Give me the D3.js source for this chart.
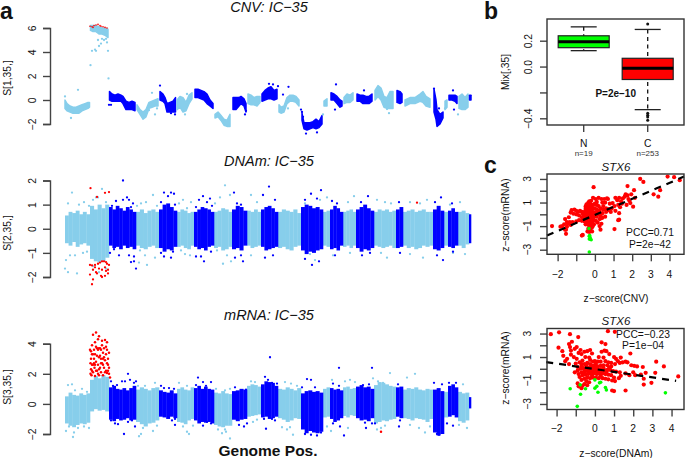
<!DOCTYPE html>
<html><head><meta charset="utf-8">
<script src="https://cdn.jsdelivr.net/npm/d3@7"></script>
<style>html,body{margin:0;padding:0;background:#fff}svg{display:block}text{font-family:"Liberation Sans",Arial,sans-serif;fill:#111}</style>
</head><body><svg id="c" width="685" height="458"></svg>
<script>
// genome segments: position units along the genome, alternating colour
const segStart=[0,25,44,71,94,112,129,149,167,182,196,213,236,258,265,278,291,309,331,338,368,379,383,393,404];
const segEnd  =[25,44,71,94,112,129,149,167,182,196,213,236,258,265,278,291,309,331,338,368,379,383,393,404,406];
const segBlue =[0,0,1,0,1,0,1,0,1,0,1,0,1,0,1,0,1,0,1,0,1,0,1,0,1];
// CNV: position, low, high
const cnvTrace=[[0,-.7,0],[2,-.9,-.3],[5,-1,-.5],[8,-1.1,-.6],[11,-1.1,-.6],[14,-1.1,-.5],[17,-.9,-.4],[20,-.8,-.3],[23,-.7,-.2],[24.5,-.6,-.2],
[25.5,5.8,6.2],[28,5.7,6.2],[31,5.7,6.2],[34,5.5,6.1],[37,5.5,6],[40,5.4,6],[43,5.2,5.9],
[44.5,0,.7],[47,-.1,.5],[50,-.1,.4],[53,-.1,.5],[56,-.1,.4],[58,-.3,.3],[61,-.8,-.1],[64,-.8,-.2],[67,-.8,-.1],[70,-.9,-.2],
[72,-.8,-.4],[75,-1.2,-.8],[78,-1.6,-1],[81,-1.4,-.8],[84,-.7,-.2],[87,-.6,-.1],[90,-.5,0],[93,-.5,.1],
[95,0,.7],[98,-.1,.5],[100,-.3,.2],[102,-1,-.3],[105,-1,-.2],[108,-1,-.1],[110.5,-1,.2],
[112,-.8,0],[115,-.6,.3],[118,-1,.2],[121,-.9,-.2],[124,-.3,.4],[127,.1,.6],
[130,.2,.9],[133,.2,.9],[136,.1,.8],[139,0,.7],[142,-.3,.5],[145,-.5,0],[148,-.7,-.3],
[150,-1.5,-1.2],[153,-1.4,-1],[156,-1.7,-1.3],[159,-2.1,-1.6],[162,-2.2,-1.7],[165,-2.2,-1.2],
[168,-.8,.2],[171,-.8,.2],[174,-.5,.2],[176,-.3,.3],[179,-.5,.1],[181,-1,-.3],
[183,-.3,.5],[186,-.4,.4],[189,-.4,.2],[192,-.5,.3],[195,-.2,.3],
[197,-.1,.5],[200,0,.8],[203,.1,1],[206,.1,1.1],[209,0,.8],[212,.1,.9],
[214,-1,-.4],[216,-1.1,-.6],[219,-1,-.5],[222,-.3,.2],[225,-.1,.4],[228,-.1,.4],[231,-.2,.3],[234,-.5,0],
[237,-1.7,-1.1],[239,-2.4,-1.9],[242,-2.5,-1.9],[245,-2.4,-1.9],[248,-2.3,-1.8],[251,-2.4,-1.6],[254,-2.3,-1.8],[257,-2,-1.3],
[259,-.5,-.1],[262,-.5,.1],[266,0,.6],[269,0,.5],[272,-.3,.3],[275,-.6,0],[277,-.5,-.1],
[279,-.3,.2],[282,-.2,.5],[285,-.2,.4],[288,0,.6],
[292,-.1,.5],[295,-.1,.4],[298,-.3,.4],[301,-.3,.3],[304,-.3,.3],[307,-.1,.5],
[310,0,.8],[313,.3,1.2],[316,0,1],[319,-.6,.3],[322,-.7,.2],[325,-.7,.7],[328,-.7,.7],
[332,-.2,.8],[335,-.3,.7],[337,-.2,.5],
[340,-.5,0],[345,-.3,.2],[350,-.3,.2],[355,-.1,.5],[358,-.2,.7],[361,-.5,.3],[365,-.6,.1],
[369,-1,.9],[371,-1.6,0],[372,-2.2,-.8],[375,-2,-1.2],[378,-1.5,-1],
[380,-.8,-.1],[382,-.6,0],[384,0,.4],[387,0,.4],[390,-.1,.4],[392,-.3,.3],
[394,-.7,.3],[397,-.8,.5],[400,-.8,.2],[403,-.6,.5],[404.5,0,.4],[406,0,.4]];
const cnvRed=[[25,6.15],[27,6.1],[29,6.2],[31,6.25],[33,6.3],[35,6.2],[38,6.1],[40,6.05],[42,6],[28,6.05],[36,6.15]];
const cnvStray=[[13,.85,0],[6,-1.5,0],[0,.3,0],[25.5,2.9,0],[27,4.1,0],[30,4.2,0],[31,4.1,0],[34,4.5,0],[33,5,0],[36,4.7,0],[39,5,0],[42,4.8,0],[43,4.1,0],[43.5,1.8,0],[41,5.1,0],[37,5.1,0],
[44,-.4,1],[46,-.4,1],[95,1.2,1],[106,-1.1,1],[110,-1.2,1],[87,.6,0],[84,-.85,0],[90,-1.2,0],[120,-1.2,0],[122,.5,0],[92,-.7,0],[180,-1.2,1],[181,-.9,1],[237,-1,1],[238,-1.4,1],[241,-2.8,1],[252,-2.7,1],[258,-1.2,0],[218,.45,1],[208,1.3,1],[204,1.35,1],[213,1.15,1],[223,-.7,0],[223.5,1.1,1],[236,-.8,1],[270,-.8,1],[271,1.3,1],[299,.8,1],[324,-1.1,0],[322,-.75,0],[369,.95,1],[374,-.7,1],[380,-.7,0],[389,-.8,1],[393,-1.2,0],[388,.8,1]];
// DNAm: dense band per segment, read in short columns
const dnaTop=[[.55,.7,.65,.75,.6,.7,.6],[.95,.8,1,.85,1],[.9,.8,.95,.85,.75,.9,.8,.7],[.7,.8,.65,.75,.8,.7],[.8,1,1.05,.9,.75],[.7,.8,.75,.65,.7],[.7,.8,.9,.85,.8,.7],[.7,.75,.85,.8,.7],[.8,.95,.9,.75],[.75,.7,.8,.7],[.8,.9,.95,.85,.7],[.7,.8,.75,.7,.8,.65],[.9,1,.95,.85,.9,.8],[.7,.75],[.8,.95,.85,.7],[.7,.75,.8,.7],[.8,.9,1,.85,.75],[.7,.8,.75,.8,.7,.75],[.8,.9],[.7,.75,.8,.7,.75,.8,.7,.7],[.8,.95,.75],[.7],[.75,.85,.7],[.7,.75,.65],[.6]];
const dnaBot=[[-.6,-.7,-.55,-.75,-.65,-.6,-.7],[-1.25,-1.35,-1.4,-1.35,-1.2],[-.7,-.8,-.75,-.85,-.7,-.8,-.75,-.85],[-.7,-.8,-.85,-.75,-.7,-.8],[-.8,-.95,-.85,-.9,-.75],[-.75,-.7,-.8,-.85,-.7],[-.75,-.85,-.8,-.9,-.75,-.7],[-.8,-.75,-.9,-.85,-.75],[-.85,-.8,-.9,-.7],[-.7,-.8,-.75,-.7],[-.75,-.9,-.85,-.8,-.75],[-.8,-.75,-.85,-.9,-.75,-.7],[-.9,-1.05,-.95,-1,-.9,-.85],[-.7,-.75],[-.85,-.8,-.9,-.7],[-.75,-.7,-.8,-.7],[-.8,-.95,-.85,-.9,-.8],[-.7,-.75,-.8,-.75,-.7,-.8],[-.8,-.75],[-.7,-.8,-.75,-.85,-.8,-.7,-.75,-.7],[-.85,-.9,-.8],[-.7],[-.75,-.8,-.7],[-.7,-.8,-.65],[-.6]];
const dnaStray=[[7,1.5,0],[3,1.05,0],[14,1,0],[19,1.1,0],[24,.95,0],[31,1.3,0],[37,1.65,0],[41,1.1,0],[28,1.2,0],[33,1.3,0],[1,-1.3,0],[0,-1.65,0],[3,-1.8,0],[12,-1.85,0],[5,-1.1,0],[10,-1.1,0],[18,-1,0],[22,-.95,0],[28,-1.55,0],[34,-1.8,0],[41,-1.65,0],[43,-1.1,0],
[72,.95,0],[76,1.05,0],[81,1.1,0],[88,1.4,0],[92,.95,0],[75,-.9,0],[80,-1.1,0],[82,-1.5,0],[90,-1.2,0],[74,-1.4,0],[114,1.05,0],[118,1.2,0],[122,.85,0],[126,1.1,0],[116,-.9,0],[120,-1.05,0],[125,-1.1,0],[150,1.05,0],[155,1.3,0],[160,1.8,0],[165,1.4,0],[152,-.9,0],[158,-1.45,0],[162,-1.1,0],[166,-1.35,0],[186,1.4,0],[192,1.1,0],[186,-1.1,0],[240,1.05,0],[255,1.2,0],[245,-1.05,0],[250,-1.3,0],[262,1.3,0],[268,-1.1,0],[283,1.1,0],[289,1.35,0],[285,-1,0],[312,1.2,0],[320,1.1,0],[326,1.05,0],[316,-1,0],[322,-1.2,0],[345,1.1,0],[355,1.05,0],[362,1.2,0],[345,-1.05,0],[358,-1.2,0],[385,1,0],[395,1.1,0],[388,-1,0],[400,-1.05,0],
[47,.95,1],[51,1.15,1],[58,1.2,1],[62,1.3,1],[64,1.2,1],[68,1.05,1],[58,2,1],[66,.9,1],[45,-1,1],[49,-.85,1],[54,-1.1,1],[64,-1.1,1],[66,-1.38,1],[69,-1.35,1],[71,-1.65,1],[69,-1.15,1],[96,1.1,1],[99,1.5,1],[103,1.35,1],[106,1.5,1],[109,1.45,1],[110,1,1],[96,-1,1],[99,-1.15,1],[106,-1.2,1],[108,-.95,1],[131,.9,1],[134,1.2,1],[138,1.35,1],[142,1.1,1],[145,1.25,1],[147,.95,1],[131,-1.15,1],[136,-1.15,1],[139,-1.35,1],[146,-.95,1],[169,1.5,1],[172,1.05,1],[176,1,1],[170,-1.2,1],[176,-1.1,1],[178,-1.35,1],[198,1.4,1],[204,1.75,1],[210,1.2,1],[200,-1.2,1],[208,-1.1,1],[240,1.2,1],[246,1.45,1],[252,1.25,1],[256,1.6,1],[240,-1.25,1],[247,-1.5,1],[254,-1.35,1],[267,1.15,1],[272,1.05,1],[270,-1.1,1],[296,1.1,1],[303,1.35,1],[297,-1.1,1],[305,-1,1],[334,1.1,1],[335,-1,1],[370,1.1,1],[376,1.3,1],[372,-1.1,1],[378,-1.3,1],[387,1.05,1],[388,-.95,1]];
const dnaRed=[[25.5,1.68],[32,1.32],[40,1.49],[44,1.52],[25,-1.5],[27,-1.52],[30,-1.5],[33,-1.45],[35,-1.4],[37,-1.35],[39,-1.35],[41,-1.38],[42,-1.45],[44,-1.5],[34,-1.65],[37,-1.7],[40,-1.6],[43,-1.7],[43,-1.85],[40,-1.95],[36,-1.95],[32,-1.85],[28,-1.7],[25,-1.9],[30,-1.6],[37,-2],[28,-2.1],[27,-2.3],[41,-1.75],[31,-1.8],[352,1.08]];
// mRNA: dense band per segment, read in short columns
const rnaTop=[[.5,.75,.6,.55,.7,.6,.7],[1.6,1.85,1.7,1.9,1.8],[1.1,1.2,1,.95,1.05,.9,1.05,1.2],[.95,1.1,1,.9,1.05,1.1],[.9,.8,.75,.9,.7],[1,1.1,.95,.9,1.1],[1.05,1.2,1,1.15,1,.95],[.75,.7,.85,.7,.65],[.85,.9,1,.95],[1.2,1.3,1.25,1.15],[1.3,1.5,1.45,1.4,1.2],[1,.95,1.1,1,.9,1.05],[.7,.85,.9,.8,.85,.75],[1,1.1],[1.05,.95,1,.9],[1.1,1.15,1,1.05],[1.15,1.25,1.1,1.15,1],[1.25,1.45,1.4,1.3,1.2,1.15],[1.1,1.15],[.95,1.05,1,1.1,.95,.9,1,.95],[.95,1.05,.85],[.8],[1.2,1.3,1.1],[.8,.7,.75],[.45]];
const rnaBot=[[-1.3,-1.45,-1.55,-1.4,-1.3,-1.35,-1.25],[-.5,-.35,-.45,-.4,-.5],[-1.05,-1.15,-1,-1.1,-1.05,-.95,-1.1,-1.05],[-1.2,-1.35,-1.5,-1.3,-1.25,-1.1],[-.85,-.9,-1,-.85,-.95],[-1.2,-1.25,-1.35,-1.1,-1],[-1.1,-1.3,-1.2,-1.25,-1.2,-1.3],[-1.4,-1.5,-1.55,-1.45,-1.45],[-1.05,-1.15,-1.05,-1],[-.85,-.8,-.75,-.7],[-.9,-.85,-1,-.95,-.85],[-.95,-1.05,-1.2,-1.1,-.95,-1],[-1.7,-1.95,-1.8,-1.9,-1.95,-1.85],[-.9,-.85],[-1,-1.2,-1.1,-.95],[-.8,-.9,-.75,-.8],[-.95,-1.1,-1.05,-1.15,-.95],[-1.3,-1.2,-1.1,-1.15,-1.05,-1],[-.85,-.95],[-.95,-1,-1.1,-.95,-1,-1.05,-1.2,-1],[-1.9,-2.1,-2],[-.9],[-.85,-.75,-.9],[-1.15,-1.25,-1.1],[-.3]];
const rnaStray=[[3,1.25,0],[7,1.3,0],[10,.9,0],[17,1,0],[22,.8,0],[1,-1.8,0],[4,-1.5,0],[8,-2.2,0],[9,-1.9,0],[13,-1.6,0],[19,-1.5,0],[24,-1.6,0],[73,1.2,0],[80,1.2,0],[90,1.4,0],[78,-1.6,0],[76,-2,0],[74,-2.15,0],[88,-1.8,0],[92,-1.45,0],[114,1.4,0],[122,1.2,0],[118,-1.5,0],[122,-1.85,0],[124,-2,0],[128,-1.45,0],[151,1,0],[160,.9,0],[165,1,0],[153,-1.7,0],[157,-1.95,0],[160,-1.7,0],[165,-2.3,0],[161,-1.85,0],[186,1.5,0],[190,1.45,0],[188,-1.2,0],[192,-1.05,0],[220,1.45,0],[226,1.35,0],[232,1.2,0],[217,-1.55,0],[222,-1.7,0],[228,-2.05,0],[225,-1.55,0],[267,1.6,0],[262,-1.5,0],[266,-1.8,0],[280,1.5,0],[285,1.6,0],[290,1.45,0],[283,-1.6,0],[308,1.7,0],[313,1.5,0],[318,1.4,0],[316,-1.6,0],[320,-1.45,0],[312,-1.7,0],[325,2.05,0],[342,1.75,0],[350,2,0],[345,-1.4,0],[354,-1.6,0],[360,-1.9,0],[365,-1.5,0],[388,1.1,0],[398,1.3,0],[402,-1.6,0],[394,-1.4,0],
[46,1.5,1],[48,1.2,1],[52,1.25,1],[57,1.5,1],[60,1.5,1],[63,2,1],[65,1.6,1],[69,1.4,1],[71,1.5,1],[46,-1.1,1],[50,-1.3,1],[53,-1.35,1],[59,-2,1],[63,-1.2,1],[70,-1.5,1],[67,-1.1,1],[96,1.2,1],[99,1.05,1],[104,1.05,1],[109,1,1],[107,-1.1,1],[110,-1,1],[110,-1.4,1],[131,1.25,1],[133,1.75,1],[138,1.45,1],[141,1.2,1],[146,1.45,1],[135,-1.2,1],[138,-1.45,1],[142,-1.2,1],[146,-1.3,1],[170,1.1,1],[181,.95,1],[174,-1.4,1],[179,-1.5,1],[182,-1.3,1],[205,3.1,1],[200,1.8,1],[203,1.6,1],[207,1.4,1],[212,1.35,1],[199,-1,1],[201,-1.65,1],[207,-1,1],[210,-1.1,1],[237,1.1,1],[242,1.65,1],[246,1.6,1],[250,1.1,1],[240,-2,1],[246,-2.05,1],[252,-2.1,1],[256,-1.9,1],[268,1.35,1],[274,1.2,1],[274,2.4,1],[268,-1.3,1],[275,-1.5,1],[279,-2.1,1],[298,1.25,1],[304,1.3,1],[307,2.4,1],[300,-1.25,1],[307,-1.3,1],[301,-1.6,1],[310,-1.3,1],[333,1.3,1],[335,-1.1,1],[334,-1.5,1],[369,1.4,1],[377,1.3,1],[372,-2,1],[374,-2.05,1],[384,1.4,1],[391,1.4,1],[382,-1.3,1],[388,-1.45,1]];
const rnaRed=[[25,3.6],[26,3],[26,2.3],[26.5,1.9],[27,3.9],[27,3.3],[27,2.6],[28,4.6],[28,2.1],[29,3.6],[29,3],[29.5,2.4],[30,4.1],[30,3.3],[30,1.85],[31,4.75],[31,3.8],[31,2.8],[32,3.2],[32,2.2],[33,4.3],[33,3.6],[33,2.6],[34,1.9],[34,4.5],[34,3.1],[35,3.7],[35,2.4],[36,3],[36,2.1],[37,3.9],[37,2.7],[37,4.2],[38,3.4],[38,1.9],[39,2.4],[39,3.7],[40,2.9],[40,4.25],[41,3.3],[41,2.2],[42,4.1],[42,2.7],[42,3.6],[43,3],[43,2.2],[44,2.4],[44,3.4],[45,1.75],[25.5,2.7],[28,3.3],[31,2.2],[34,3.7],[38,2.6],[29,2.7],[27,2.2],[36,3.6],[39,3.1],[42,2.05],[33,2],[35,3.2],[26,3.5],[25.5,2],[28,2.6],[30,2.6],[32,3.7],[34,2.3],[36,2.7],[38,3],[40,2.1],[41,3.8],[43,2.6],[44,2],[316,-1.85]];
const cnvTicks=[-2,0,2,4,6], dnaTicks=[-2,-1,0,1,2], rnaTicks=[-2,0,2,4];
// box plot
const boxNames=["N","C"], boxCounts=["n=19","n=253"];
const boxStats=[{lo:.123,q1:.146,med:.192,q3:.238,hi:.307},{lo:-.333,q1:-.10,med:-.013,q3:.064,hi:.287}];
const boxOut=[[2,.33],[2,-.36],[2,-.377],[2,-.39],[2,-.415]];
const boxColors=["#00ff00","#ff0000"];
// scatter CNV vs mRNA
const c1Red=[[2.43,3],[2.6,2.75],[-.07,2.3],[3.9,3.2],[4.25,3.15],[4.55,2.9],[3.15,1.7],[3.4,1.5],[3.5,2.05],[1.75,2.4],[1.1,1.4],[1.2,1.2],[1.3,1.4],[1.4,1.1],[1.45,.9],[1.6,1.5],[1.65,1.7],[1.75,1.6],[1.8,1.3],[1.85,1.15],[1.95,1.7],[2.1,2.05],[2.15,1.4],[1.5,1.35],[1.7,.8],[1.9,.95],[1.35,.6],[1.25,.8],[1.05,.7],[.95,.95],[.8,.9],[.7,1.3],[.65,1.35],[.5,1.3],[.55,1],[.4,1],[.45,.7],[.35,1.3],[.2,1.4],[.05,1.3],[-.1,1.4],[-.3,1.1],[-.35,1],[-.25,.9],[-.45,.85],[-.4,.7],[-.3,.65],[-.2,.7],[-.1,.8],[0,.9],[.1,.8],[.2,.7],[.3,.5],[.45,.4],[.6,.5],[.75,.45],[.9,.5],[1.1,.3],[1.3,.1],[.85,.2],[.6,.2],[.4,.1],[.25,.3],[.1,.4],[0,.5],[-.1,.45],[-.2,.4],[-.3,.35],[-.4,.4],[-.5,.45],[-.55,.2],[-.45,.15],[-.35,.15],[-.25,.1],[-.15,.2],[-.05,.15],[.05,.1],[.15,0],[.3,-.1],[.4,-.3],[.25,-.4],[.1,-.2],[0,-.1],[-.1,-.1],[-.2,-.15],[-.3,-.1],[-.4,-.1],[-.5,0],[-.6,-.05],[-.7,.2],[-.8,.3],[-.9,.2],[-1,.3],[-1.1,.4],[-1.25,.35],[-1.3,.15],[-1.15,.05],[-1,0],[-.85,-.1],[-.7,-.25],[-.55,-.3],[-.45,-.3],[-.35,-.35],[-.25,-.4],[-.15,-.4],[-.05,-.5],[.05,-.55],[.15,-.7],[.35,-.8],[-.05,-.85],[-.15,-.7],[-.25,-.65],[-.35,-.65],[-.45,-.6],[-.55,-.6],[-.7,-.55],[-.85,-.5],[-1,-.6],[-1.2,-.65],[-1.35,-.65],[-1.5,-.65],[-1.6,-.4],[-1.4,-.25],[-1.65,-.85],[-1.5,-1.05],[-1.75,-1],[-1.45,-.8],[-1.3,-.9],[-2.3,-1],[-1.85,-1.05],[-1.55,-1.3],[-1.55,-1.65],[-1.6,-1.3],[-.35,-.9],[-.25,-1],[-.15,-1.1],[-.35,-1.2],[-.25,-1.3],[-.4,-1.45],[-.3,-1.5],[-.15,-1.45],[-.7,-1.8],[-.65,-1.75],[-.3,-.75],[-.5,-.85],[.3,-.35],[.25,-1],[.3,-1.3],[-.1,-.2],[1.05,-1.25],[1.25,-.5],[1.3,-.45],[2.05,.65],[-.2,1.15],[.1,1.05],[-.45,.55],[-.5,.65],[-.15,.55],[-.3,.2],[.15,.25],[-.2,-.85],[-.1,-.95],[.55,-.2],[.7,.35],[-.65,.05],[-.35,.05],[-.2,.05],[-.1,-.3],[-.3,-.25],[-.45,-.15]];
const c1Green=[[-.3,-1.85],[-.25,-2],[-.3,-2.1],[-.2,-2.15],[-.28,-1.8],[-.3,-3.2],[-.32,-1.2]];
const c1Fit=[[-2.57,-1.8],[4.78,3.2]];
// scatter DNAm vs mRNA
const c2Red=[[-2.3,2.95],[-1.87,3.1],[-1.3,2.95],[.68,3.2],[1.04,3.15],[-.87,2.7],[-1.9,1.8],[-1.7,1.5],[-1.35,2.1],[-1.3,1.85],[-1.2,2.3],[-1.25,1.55],[-1.05,1.7],[-.95,1.85],[-.75,1.6],[-1.65,1.1],[-1.45,.85],[-1.25,1.2],[-1.55,.65],[-1.35,.4],[-1.1,1],[-.95,.85],[-.85,1.35],[-.7,1.25],[-.55,1.45],[-.4,1.5],[-.25,1.6],[-.15,1.3],[-.3,.95],[-.5,1],[-.65,.7],[-.8,.55],[-1,.45],[-.9,.15],[-.7,.2],[-.55,.4],[-.4,.5],[-.25,.4],[-.1,.6],[0,.65],[.15,.6],[.3,.6],[.35,2.25],[.55,2.1],[.5,1.55],[.6,1.5],[.75,1.25],[.35,1.45],[.2,1],[.45,.95],[.55,.65],[.7,.55],[.85,.5],[1,1],[1.1,.85],[1.2,.65],[1.35,.95],[1.3,.5],[1.05,.4],[.85,.2],[.65,.3],[.45,.3],[.3,.25],[.15,.2],[0,.25],[-.15,.15],[-.3,.1],[-.45,.1],[-.6,.05],[-.75,0],[-.9,-.15],[-1.05,-.3],[-.85,-.45],[-.7,-.3],[-.55,-.2],[-.4,-.2],[-.25,-.15],[-.1,-.1],[.05,-.1],[.2,-.05],[.35,-.05],[.5,-.15],[.65,-.1],[.8,-.1],[.95,-.2],[1.1,-.25],[1.3,-.3],[1.45,.55],[1.6,.6],[1.7,.55],[1.85,1.3],[1.9,.3],[2.05,.25],[2.2,.2],[2.5,.15],[3.2,.6],[3.6,.2],[2,-.3],[1.6,-.4],[1.35,-.6],[1.25,-.8],[1,-.75],[.85,-.55],[.7,-.5],[.55,-.45],[.4,-.4],[.25,-.4],[.1,-.45],[-.05,-.4],[-.2,-.4],[-.35,-.45],[-.5,-.5],[-.65,-.55],[-.8,-.7],[-.7,-.95],[-.55,-.85],[-.4,-.75],[-.25,-.8],[-.1,-.75],[.05,-.75],[.2,-.8],[.4,-.8],[.55,-.85],[.7,-.9],[.9,-1],[1.05,-1.05],[-.45,-1.05],[-.3,-1.15],[-.55,-1.3],[-.4,-1.4],[-.65,-1.45],[-.9,-1.25],[-.7,-1.65],[-.85,-1.5],[.9,-1.85],[1,-1.9],[1.6,-1.85],[2.55,-.85],[2.95,-1.2],[2.55,-1.35],[2.65,-.35],[3.15,-.35],[2.4,-.5],[4.35,-.65],[2.1,-.55],[1.8,-.55],[-.25,.75],[-.1,.25],[-.2,-.25],[.1,.05],[-.05,.1],[-.4,-.05],[-.55,-.35],[.3,-.25],[.15,-.25],[.0,-.25],[-.15,-.6],[.3,-.6],[.6,-.25],[.05,.4],[-.3,-.3],[-.45,.35],[-.7,.4],[.45,.05],[.75,.1]];
const c2Green=[[-1.29,-1.7],[-.92,-3.2],[-.77,-1.37],[-.75,-2.17],[-.49,-1.7],[0,-.95],[0,-1.65],[.16,-2],[.24,-1.2],[.3,-1.15],[.1,-1.5],[.55,-1.6],[.6,-1.8],[3.68,-2.05]];
const c2Fit=[[-2.54,.57],[4.24,-1.03]];
const scatterXTicks=[-2,-1,0,1,2,3,4], xLabelTicks=[-2,0,1,2,3,4];
const scatterYTicks=[-3,-2,-1,0,1,2,3], yLabelTicks=[-3,-1,1,3];

const svg=d3.select("#c");
const LIGHT="#87ceeb",BLUE="#0000ff",RED="#ff0000",AX="#444";
const FS=10.3;
const minus=s=>String(s).replace("-","\u2212");
const fmt=v=>minus(v);
function txt(x,y,s,o={}){const t=svg.append("text").attr("x",x).attr("y",y).attr("text-anchor",o.a||"middle").attr("dominant-baseline","central").attr("font-size",o.s||10).text(s);
 if(o.b)t.attr("font-weight","bold");if(o.i)t.attr("font-style","italic");if(o.r)t.attr("transform",`rotate(-90 ${x} ${y})`);if(o.c)t.style("fill",o.c);return t;}
const X=d3.scaleLinear().domain([0,406]).range([65,471]);
function yAxis(y,ticks,left,labelX,size,fmtFn){
 const g=svg.append("g").attr("transform",`translate(${left},0)`).call(d3.axisLeft(y).tickValues(ticks).tickSize(7).tickFormat(fmtFn||fmt));
 g.selectAll("path,line").attr("stroke",AX).attr("stroke-width",1.4);
 g.selectAll("text").attr("x",0).attr("y",0).attr("dy",null).attr("text-anchor","middle").attr("dominant-baseline","central").attr("font-size",size).style("font-family",'"Liberation Sans",Arial,sans-serif')
  .attr("transform",`translate(${labelX-left},0) rotate(-90)`);
 return g;}
function dots(pts,y,colorFn,r=1.15){svg.append("g").selectAll("circle").data(pts).join("circle").attr("cx",d=>X(d[0])).attr("cy",d=>y(d[1])).attr("r",r).attr("fill",colorFn);}
// one rect per column of a segment's dense band
function bands(top,bot,y,blue){
 const cols=[];
 segStart.forEach((s,i)=>{if(segBlue[i]!==blue)return;const b=d3.scaleBand().domain(d3.range(top[i].length)).range([X(s),X(segEnd[i])]);
  top[i].forEach((t,j)=>cols.push({x:b(j),w:b.bandwidth(),t,l:bot[i][j]}));});
 svg.append("g").selectAll("rect").data(cols).join("rect").attr("x",d=>d.x).attr("width",d=>d.w+.3).attr("y",d=>y(d.t)).attr("height",d=>y(d.l)-y(d.t)).attr("fill",blue?BLUE:LIGHT);}
// CNV
const y1=d3.scaleLinear().domain([-2,6]).range([124,28]);
yAxis(y1,cnvTicks,50,32,FS);
const cnvArea=d3.area().x(d=>X(d[0])).y0(d=>y1(d[1])).y1(d=>y1(d[2]));
svg.append("g").selectAll("path").data(segStart.map((s,i)=>({i,pts:cnvTrace.filter(d=>d[0]>=s&&d[0]<=segEnd[i]&&(d[0]<segEnd[i]||i===segStart.length-1))}))).join("path")
 .attr("d",d=>cnvArea(d.pts)).attr("fill",d=>segBlue[d.i]?BLUE:LIGHT).attr("stroke",d=>segBlue[d.i]?BLUE:LIGHT).attr("stroke-width",1.5).attr("stroke-linejoin","round");
dots(cnvStray,y1,d=>d[2]?BLUE:LIGHT);
dots(cnvRed,y1,()=>RED,.8);
txt(7,78,"S[1,35,]",{s:FS,r:1});
txt(269,7,"CNV: IC\u221235",{s:14.5,i:1});
// DNAm
const y2=d3.scaleLinear().domain([-2,2]).range([277,180.5]);
yAxis(y2,dnaTicks,50,32,FS);
bands(dnaTop,dnaBot,y2,0);dots(dnaStray.filter(d=>!d[2]),y2,()=>LIGHT);
bands(dnaTop,dnaBot,y2,1);dots(dnaStray.filter(d=>d[2]),y2,()=>BLUE);
dots(dnaRed,y2,()=>RED);
txt(7,233,"S[2,35,]",{s:FS,r:1});
txt(269,161,"DNAm: IC\u221235",{s:14.5,i:1});
// mRNA
const y3=d3.scaleLinear().domain([-2,4]).range([434,343.7]);
yAxis(y3,rnaTicks,50,32,FS);
bands(rnaTop,rnaBot,y3,0);dots(rnaStray.filter(d=>!d[2]),y3,()=>LIGHT);
bands(rnaTop,rnaBot,y3,1);dots(rnaStray.filter(d=>d[2]),y3,()=>BLUE);
dots(rnaRed,y3,()=>RED,1.25);
txt(7,387,"S[3,35,]",{s:FS,r:1});
txt(269,315,"mRNA: IC\u221235",{s:14.5,i:1});
txt(268,450,"Genome Pos.",{s:15.5,b:1});
txt(0,11,"a",{s:23,b:1,a:"start"});txt(484,11,"b",{s:23,b:1,a:"start"});txt(484,164.5,"c",{s:23,b:1,a:"start"});
// box
const bx=d3.scaleLinear().domain([1,2]).range([583.7,647.7]);
const by=d3.scaleLinear().domain([-.4,.2]).range([118.3,40.7]);
const frame=(x0,y0,x1,y1)=>svg.append("rect").attr("x",x0).attr("y",y0).attr("width",x1-x0).attr("height",y1-y0).attr("fill","none").attr("stroke","#333").attr("stroke-width",1.4);
yAxis(by,[-.4,-.2,0,.2],547,528,FS,d=>d===-.2?"":minus(d3.format(".1f")(d))).call(g=>g.select("path").remove());
const bg=svg.append("g");
boxStats.forEach((s,i)=>{const c=bx(i+1),h=25.5;
 bg.append("line").attr("x1",c).attr("x2",c).attr("y1",by(s.hi)).attr("y2",by(s.lo)).attr("stroke","#111").attr("stroke-width",1.3).attr("stroke-dasharray","4 3.5");
 [s.lo,s.hi].forEach(v=>bg.append("line").attr("x1",c-13).attr("x2",c+13).attr("y1",by(v)).attr("y2",by(v)).attr("stroke","#222").attr("stroke-width",1.3));
 bg.append("rect").attr("x",c-h).attr("width",2*h).attr("y",by(s.q3)).attr("height",by(s.q1)-by(s.q3)).attr("fill",boxColors[i]).attr("stroke","#222").attr("stroke-width",1.2);
 bg.append("line").attr("x1",c-h).attr("x2",c+h).attr("y1",by(s.med)).attr("y2",by(s.med)).attr("stroke","#000").attr("stroke-width",3);
 bg.append("line").attr("x1",c).attr("x2",c).attr("y1",125).attr("y2",132).attr("stroke",AX).attr("stroke-width",1.4);
 txt(c,143,boxNames[i],{s:FS});txt(c,153.5,boxCounts[i],{s:8,c:"#333"});
});
bg.selectAll("circle").data(boxOut).join("circle").attr("cx",d=>bx(d[0])).attr("cy",d=>by(d[1])).attr("r",1.5).attr("fill","#111");
frame(547,19,684,125);
txt(505,72,"Mix[,35]",{s:FS,r:1});
txt(615.7,93,"P=2e\u221210",{s:10,b:1});
// scatter
function scatter(o){
 const x=d3.scaleLinear().domain(o.xd).range([547,684]),y=d3.scaleLinear().domain(o.yd).range([o.b,o.t]);
 const ax=svg.append("g").attr("transform",`translate(0,${o.b})`).call(d3.axisBottom(x).tickValues(scatterXTicks).tickSize(7).tickFormat(""));
 ax.selectAll("line").attr("stroke",AX).attr("stroke-width",1.4);ax.select("path").remove();
 xLabelTicks.forEach(t=>txt(x(t),o.tl,fmt(t),{s:FS}));
 const ay=svg.append("g").attr("transform","translate(547,0)").call(d3.axisLeft(y).tickValues(scatterYTicks).tickSize(7).tickFormat(""));
 ay.selectAll("line").attr("stroke",AX).attr("stroke-width",1.4);ay.select("path").remove();
 yLabelTicks.forEach(t=>txt(528,y(t),fmt(t),{s:FS,r:1}));
 const g=svg.append("g");
 g.selectAll("circle.r").data(o.red).join("circle").attr("class","r").attr("cx",d=>x(d[0])).attr("cy",d=>y(d[1])).attr("r",2.1).attr("fill",RED);
 g.selectAll("circle.g").data(o.green).join("circle").attr("class","g").attr("cx",d=>x(d[0])).attr("cy",d=>y(d[1])).attr("r",1.8).attr("fill","#00ff00");
 g.append("path").attr("d",d3.line().x(d=>x(d[0])).y(d=>y(d[1]))(o.fit)).attr("stroke","#000").attr("stroke-width",2.2).attr("stroke-dasharray","7 6").attr("fill","none");
 frame(547,o.t,684,o.b);
 txt(616,o.title,"STX6",{s:11.5,i:1});
 txt(505,o.yl,"z\u2212score(mRNA)",{s:FS,r:1});
 txt(616,o.xl,o.xname,{s:FS});
 o.notes.forEach(n=>txt(n[0],n[1],n[2],{s:FS}));
}
scatter({xd:[-2.57,4.78],yd:[-3.39,3.42],t:174,b:254.3,tl:274,title:166.5,yl:215,xl:298,xname:"z\u2212score(CNV)",red:c1Red,green:c1Green,fit:c1Fit,notes:[[650,232.5,"PCC=0.71"],[650,244.5,"P=2e\u221242"]]});
scatter({xd:[-2.5,4.65],yd:[-3.47,3.43],t:328.5,b:409.5,tl:428,title:320.5,yl:368,xl:453,xname:"z\u2212score(DNAm)",red:c2Red,green:c2Green,fit:c2Fit,notes:[[643,334,"PCC=\u22120.23"],[643,345.7,"P=1e\u221204"]]});
</script></body></html>
